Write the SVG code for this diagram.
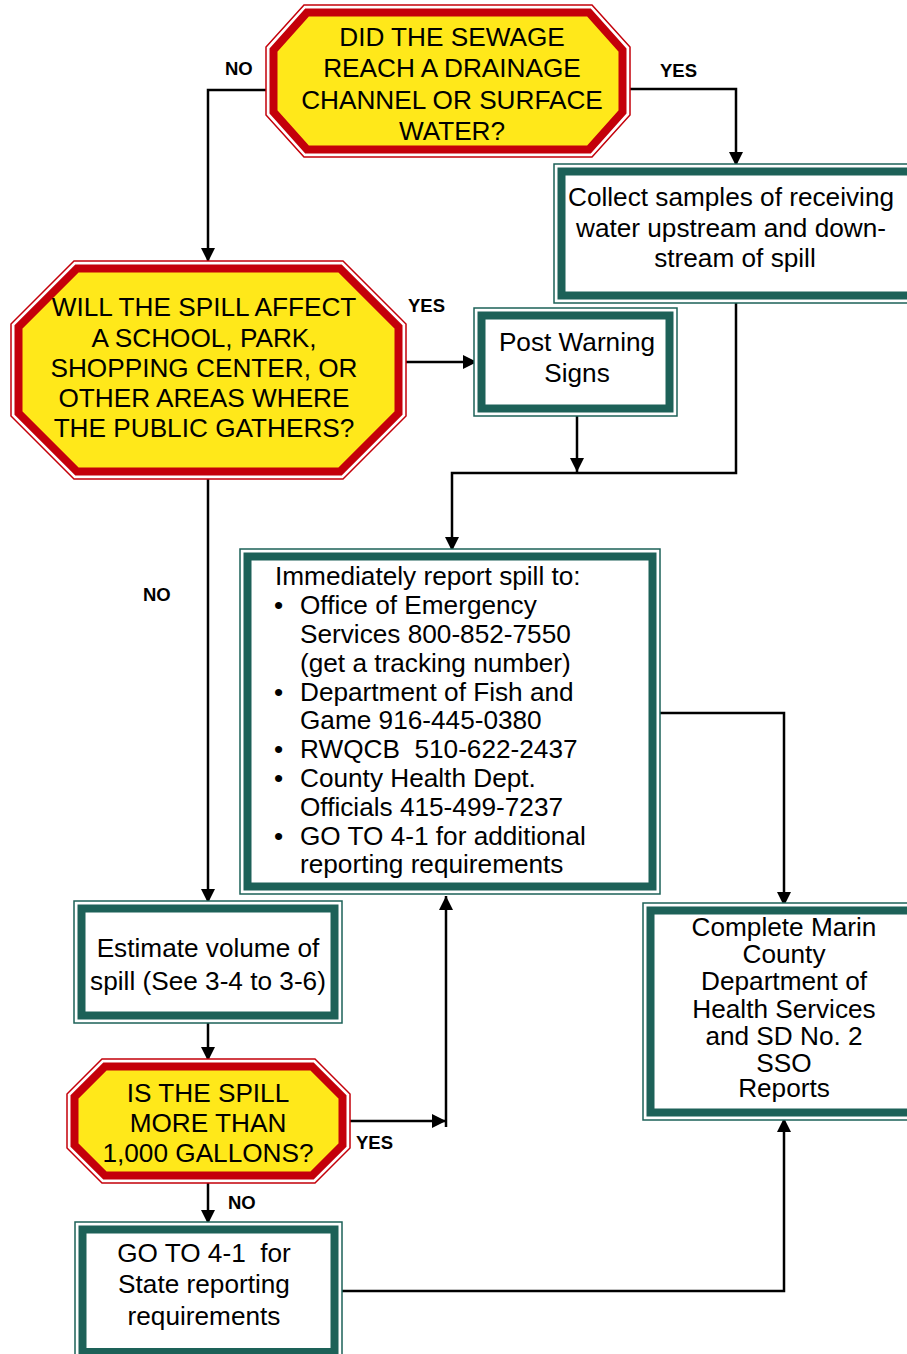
<svg xmlns="http://www.w3.org/2000/svg" width="907" height="1354" viewBox="0 0 907 1354">
<defs>
<style>
.t{font-family:"Liberation Sans",Arial,sans-serif;font-size:26.2px;fill:#000}
.c{text-anchor:middle}
.lbl{font-family:"Liberation Sans",Arial,sans-serif;font-size:18.5px;font-weight:bold;fill:#000}
.oo{fill:#fff;stroke:#c4000a;stroke-width:1.5}
.oi{fill:#ffe81a;stroke:#c4000a;stroke-width:8;stroke-linejoin:miter}
.bo{fill:#fff;stroke:#1d6158;stroke-width:1.5}
.bi{fill:#fff;stroke:#1d6158;stroke-width:8}
.cn{fill:none;stroke:#000;stroke-width:2.5;marker-end:url(#ah)}
</style>
<marker id="ah" markerUnits="userSpaceOnUse" markerWidth="15" markerHeight="15" refX="14" refY="7" orient="auto">
<path d="M0,0 L14,7 L0,14 z" fill="#000"/>
</marker>
</defs>
<rect width="907" height="1354" fill="#fff"/>

<g id="connectors">
<path class="cn" d="M266,90 H208 V262"/>
<path class="cn" d="M630,89 H736 V166"/>
<path class="cn" d="M406,362 H477"/>
<path class="cn" d="M736,303 V473 H452 V551"/>
<path class="cn" d="M577,416 V472"/>
<path class="cn" d="M208,479 V903"/>
<path class="cn" d="M660,713 H784 V906"/>
<path class="cn" d="M208,1023 V1061"/>
<path class="cn" d="M350,1121 H446"/>
<path class="cn" d="M446,1127 V896"/>
<path class="cn" d="M208,1183 V1224"/>
<path class="cn" d="M342,1291 H784 V1118"/>
</g>

<g id="labels">
<text class="lbl" x="225" y="75">NO</text>
<text class="lbl" x="660" y="77">YES</text>
<text class="lbl" x="408" y="312">YES</text>
<text class="lbl" x="143" y="601">NO</text>
<text class="lbl" x="356" y="1149">YES</text>
<text class="lbl" x="228" y="1209">NO</text>
</g>

<g id="q1">
<polygon class="oo" points="304,5 592,5 630,47 630,115 592,157 304,157 266,115 266,47"/>
<polygon class="oi" points="307,12.5 589,12.5 622.5,50 622.5,112 589,149.5 307,149.5 273.5,112 273.5,50"/>
<text class="t c" x="452" y="46">DID THE SEWAGE</text>
<text class="t c" x="452" y="77">REACH A DRAINAGE</text>
<text class="t c" x="452" y="108.5">CHANNEL OR SURFACE</text>
<text class="t c" x="452" y="139.5">WATER?</text>
</g>

<g id="collect">
<rect class="bo" x="554" y="164" width="370" height="139"/>
<rect class="bi" x="561.5" y="171.5" width="360" height="124"/>
<text class="t c" x="731" y="206">Collect samples of receiving</text>
<text class="t c" x="731" y="237">water upstream and down-</text>
<text class="t c" x="735" y="267">stream of spill</text>
</g>

<g id="q2">
<polygon class="oo" points="74,261 343,261 406,324 406,416 343,479 74,479 11,416 11,324"/>
<polygon class="oi" points="77,268.5 340,268.5 398.5,327 398.5,413 340,471.5 77,471.5 18.5,413 18.5,327"/>
<text class="t c" x="204" y="316">WILL THE SPILL AFFECT</text>
<text class="t c" x="204" y="346.5">A SCHOOL, PARK,</text>
<text class="t c" x="204" y="377">SHOPPING CENTER, OR</text>
<text class="t c" x="204" y="407">OTHER AREAS WHERE</text>
<text class="t c" x="204" y="437">THE PUBLIC GATHERS?</text>
</g>

<g id="signs">
<rect class="bo" x="474" y="308" width="203" height="108"/>
<rect class="bi" x="481.5" y="315.5" width="188" height="93"/>
<text class="t c" x="577" y="351">Post Warning</text>
<text class="t c" x="577" y="382">Signs</text>
</g>

<g id="report">
<rect class="bo" x="240" y="549" width="420" height="345"/>
<rect class="bi" x="247.5" y="556.5" width="405" height="330"/>
<text class="t" x="275" y="585">Immediately report spill to:</text>
<text class="t" x="274" y="614">•</text>
<text class="t" x="300" y="614">Office of Emergency</text>
<text class="t" x="300" y="643">Services 800-852-7550</text>
<text class="t" x="300" y="672">(get a tracking number)</text>
<text class="t" x="274" y="700.5">•</text>
<text class="t" x="300" y="700.5">Department of Fish and</text>
<text class="t" x="300" y="729">Game 916-445-0380</text>
<text class="t" x="274" y="758">•</text>
<text class="t" x="300" y="758" xml:space="preserve">RWQCB  510-622-2437</text>
<text class="t" x="274" y="787">•</text>
<text class="t" x="300" y="787">County Health Dept.</text>
<text class="t" x="300" y="816">Officials 415-499-7237</text>
<text class="t" x="274" y="844.5">•</text>
<text class="t" x="300" y="844.5">GO TO 4-1 for additional</text>
<text class="t" x="300" y="873">reporting requirements</text>
</g>

<g id="estimate">
<rect class="bo" x="74" y="901" width="268" height="122"/>
<rect class="bi" x="81.5" y="908.5" width="253" height="107"/>
<text class="t c" x="208" y="957">Estimate volume of</text>
<text class="t c" x="208" y="990">spill (See 3-4 to 3-6)</text>
</g>

<g id="q3">
<polygon class="oo" points="102,1059 315,1059 350,1094 350,1148 315,1183 102,1183 67,1148 67,1094"/>
<polygon class="oi" points="105,1066.5 312,1066.5 342.5,1097 342.5,1145 312,1175.5 105,1175.5 74.5,1145 74.5,1097"/>
<text class="t c" x="208" y="1102">IS THE SPILL</text>
<text class="t c" x="208" y="1132">MORE THAN</text>
<text class="t c" x="208" y="1162">1,000 GALLONS?</text>
</g>

<g id="goto">
<rect class="bo" x="75" y="1222" width="267" height="140"/>
<rect class="bi" x="82.5" y="1229.5" width="252" height="122.5"/>
<text class="t c" x="204" y="1262" xml:space="preserve">GO TO 4-1  for</text>
<text class="t c" x="204" y="1293">State reporting</text>
<text class="t c" x="204" y="1325">requirements</text>
</g>

<g id="complete">
<rect class="bo" x="643" y="903" width="280" height="217"/>
<rect class="bi" x="650.5" y="910.5" width="265" height="202"/>
<text class="t c" x="784" y="936">Complete Marin</text>
<text class="t c" x="784" y="963">County</text>
<text class="t c" x="784" y="990">Department of</text>
<text class="t c" x="784" y="1018">Health Services</text>
<text class="t c" x="784" y="1045">and SD No. 2</text>
<text class="t c" x="784" y="1072">SSO</text>
<text class="t c" x="784" y="1097">Reports</text>
</g>
</svg>
